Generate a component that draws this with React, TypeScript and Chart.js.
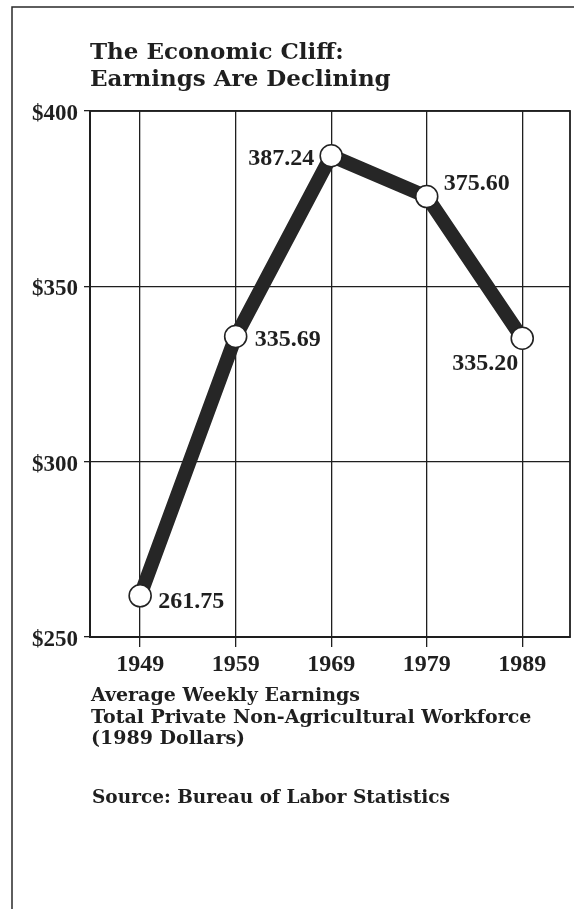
import { useEffect, useRef } from "react";
import { Chart, registerables } from "chart.js";

Chart.register(...registerables);

const years = [1949, 1959, 1969, 1979, 1989];
const earnings = [261.75, 335.69, 387.24, 375.6, 335.2];
const earningLabels = ["261.75", "335.69", "387.24", "375.60", "335.20"];
const yTicks = [250, 300, 350, 400];
const titleLines = ["The Economic Cliff:", "Earnings Are Declining"];
const noteLines = [
  "Average Weekly Earnings",
  "Total Private Non-Agricultural Workforce",
  "(1989 Dollars)",
];
const sourceLine = "Source: Bureau of Labor Statistics";

// label placement relative to each point: [dx, dy, align]
const labelPlacement: [number, number, CanvasTextAlign][] = [
  [18, 12, "left"],
  [19, 9, "left"],
  [-17, 9, "right"],
  [17, -7, "left"],
  [-4, 32, "right"],
];

const INK = "#1f1f1f";
const TEXT_FONT = '"DejaVu Serif", serif';
const NUM_FONT = '"Liberation Serif", serif';

const decorPlugin = {
  id: "decor",
  afterDraw(chart: any) {
    const ctx: CanvasRenderingContext2D = chart.ctx;
    const area = chart.chartArea;
    ctx.save();
    // outer frame
    ctx.strokeStyle = "#2a2a2a";
    ctx.lineWidth = 1.5;
    ctx.beginPath();
    ctx.moveTo(12, 909);
    ctx.lineTo(12, 7);
    ctx.lineTo(574, 7);
    ctx.stroke();

    // plot box
    ctx.strokeStyle = INK;
    ctx.lineWidth = 1.8;
    ctx.strokeRect(area.left, area.top, area.right - area.left, area.bottom - area.top);

    ctx.fillStyle = INK;
    ctx.textAlign = "left";
    ctx.textBaseline = "alphabetic";
    ctx.font = `bold 23px ${TEXT_FONT}`;
    titleLines.forEach((t, i) => ctx.fillText(t, 90, 59 + i * 27));

    ctx.font = `bold 19px ${TEXT_FONT}`;
    noteLines.forEach((t, i) => ctx.fillText(t, 91, 701 + i * 21.5));
    ctx.font = `bold 18.5px ${TEXT_FONT}`;
    ctx.fillText(sourceLine, 92, 803);

    // data labels
    const meta = chart.getDatasetMeta(0);
    ctx.font = `bold 24px ${NUM_FONT}`;
    meta.data.forEach((pt: any, i: number) => {
      const [dx, dy, align] = labelPlacement[i];
      ctx.textAlign = align;
      ctx.fillText(earningLabels[i], pt.x + dx, pt.y + dy);
    });
    ctx.restore();
  },
};

export default function App() {
  const ref = useRef<HTMLCanvasElement>(null);
  useEffect(() => {
    if (!ref.current) return;
    const chart = new Chart(ref.current, {
      type: "line",
      data: {
        datasets: [
          {
            data: years.map((y, i) => ({ x: y, y: earnings[i] })),
            borderColor: "#262626",
            borderWidth: 14,
            borderJoinStyle: "round",
            borderCapStyle: "round",
            tension: 0,
            pointRadius: 11,
            pointBackgroundColor: "#ffffff",
            pointBorderColor: "#222222",
            pointBorderWidth: 1.6,
            clip: false as any,
          },
        ],
      },
      options: {
        animation: false,
        responsive: false,
        devicePixelRatio: 1,
        layout: { autoPadding: false, padding: { left: 0, top: 111, right: 4, bottom: 232 } },
        plugins: {
          legend: { display: false },
          tooltip: { enabled: false },
          title: { display: false },
        },
        scales: {
          x: {
            type: "linear",
            min: 1943.75,
            max: 1994,
            afterBuildTicks: (s: any) => {
              s.ticks = years.map((v) => ({ value: v }));
            },
            afterFit: (s: any) => {
              s.height = 40;
              s.paddingLeft = 0;
              s.paddingRight = 0;
            },
            grid: {
              color: INK,
              lineWidth: 1.3,
              tickLength: 10,
              drawTicks: true,
            },
            border: { display: true, color: INK, width: 2 },
            ticks: {
              color: INK,
              font: { family: NUM_FONT, size: 24, weight: "bold" },
              padding: 3,
              maxRotation: 0,
              autoSkip: false,
              callback: (v: any) => String(v),
            },
          },
          y: {
            type: "linear",
            min: 250,
            max: 400,
            afterBuildTicks: (s: any) => {
              s.ticks = yTicks.map((v) => ({ value: v }));
            },
            afterFit: (s: any) => {
              s.width = 90;
              s.paddingTop = 0;
              s.paddingBottom = 0;
            },
            grid: {
              color: INK,
              lineWidth: 1.3,
              tickLength: 6,
              drawTicks: true,
            },
            border: { display: true, color: INK, width: 2 },
            ticks: {
              color: INK,
              font: { family: NUM_FONT, size: 23, weight: "bold" },
              padding: 6,
              labelOffset: 3,
              callback: (v: any) => "$" + v,
            },
          },
        },
      },
      plugins: [decorPlugin],
    });
    return () => chart.destroy();
  }, []);
  return (
    <div style={{ position: "absolute", left: 0, top: 0, width: 574, height: 909, background: "#fff" }}>
      <canvas ref={ref} width={574} height={909} style={{ width: 574, height: 909, display: "block" }} />
    </div>
  );
}
